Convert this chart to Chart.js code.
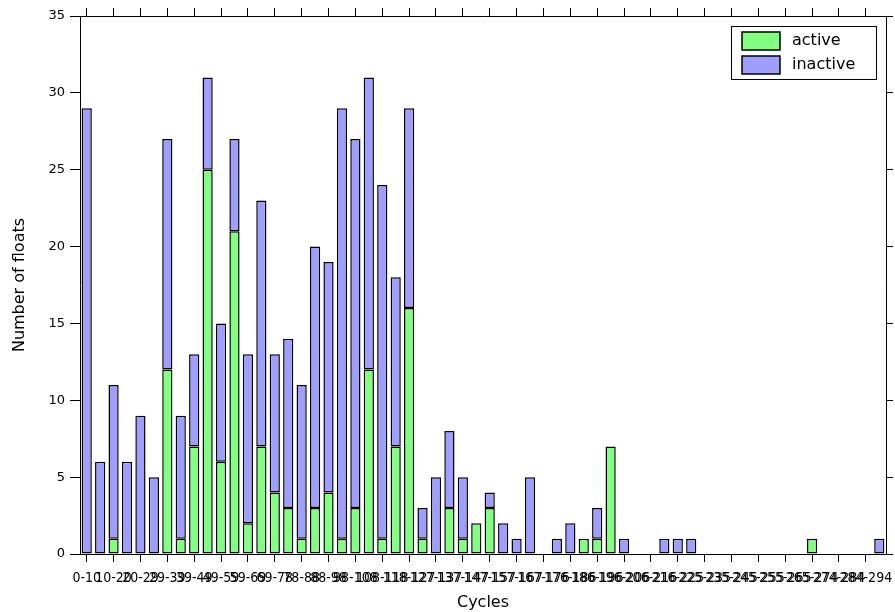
<!DOCTYPE html>
<html>
<head>
<meta charset="utf-8">
<script src="https://cdn.jsdelivr.net/npm/chart.js@4.4.0/dist/chart.umd.min.js"></script>
<style>
html,body{margin:0;padding:0;background:#fff;}
#wrap{width:895px;height:612px;position:relative;}
canvas{display:block;}
</style>
</head>
<body>
<div id="wrap"><canvas id="c" width="895" height="612"></canvas></div>
<script>
// Tick labels shown under every other bar
const tickLabels = ["0-10","10-20","20-29","29-39","39-49","49-59","59-69","69-78","78-88","88-98",
  "98-108","108-118","118-127","127-137","137-147","147-157","157-167","167-176","176-186","186-196",
  "196-206","206-216","216-225","225-235","235-245","245-255","255-265","265-274","274-284","284-294"];

// Number of floats per bin (60 bins)
const active = [0,0,1,0,0,0,12,1,7,25, 6,21,2,7,4,3,1,3,4,1,
  3,12,1,7,16,1,0,3,1,2, 3,0,0,0,0,0,0,1,1,7,
  0,0,0,0,0,0,0,0,0,0, 0,0,0,0,1,0,0,0,0,0];
const inactive = [29,6,10,6,9,5,15,8,6,6, 9,6,11,16,9,11,10,17,15,28,
  24,19,23,11,13,2,5,5,4,0, 1,2,1,5,0,1,2,0,2,0,
  1,0,0,1,1,1,0,0,0,0, 0,0,0,0,0,0,0,0,0,1];

const yMin = 0, yMax = 35, yStep = 5;

// categories: one per bin, labelled on every other bin
const categories = [];
for (let i = 0; i < active.length; i++) {
  categories.push(i % 2 === 0 ? tickLabels[i / 2] : '');
}

const GREEN = '#80ff80';
const BLUE = '#9e9eff';

const tickColor = ctx => (ctx.index % 2 === 0 ? '#000' : 'rgba(0,0,0,0)');

const boxLegend = {
  id: 'boxLegend',
  afterDraw(chart) {
    const ctx = chart.ctx;
    const x0 = 731.5, y0 = 26.5, w = 145, h = 53;
    ctx.save();
    ctx.fillStyle = '#fff';
    ctx.fillRect(x0, y0, w, h);
    ctx.strokeStyle = '#000';
    ctx.lineWidth = 1;
    ctx.strokeRect(x0, y0, w, h);
    ctx.font = '16px "DejaVu Sans"';
    ctx.textBaseline = 'middle';
    ctx.textAlign = 'left';
    chart.data.datasets.forEach((ds, i) => {
      const sy = 32 + i * 24;
      ctx.fillStyle = ds.backgroundColor;
      ctx.fillRect(742, sy, 38, 18);
      ctx.strokeStyle = '#000';
      ctx.lineWidth = 1.5;
      ctx.strokeRect(742, sy, 38, 18);
      ctx.fillStyle = '#000';
      ctx.fillText(ds.label, 792, sy + 9);
    });
    ctx.restore();
  }
};

new Chart(document.getElementById('c'), {
  type: 'bar',
  data: {
    labels: categories,
    datasets: [
      { label: 'active', data: active, backgroundColor: GREEN, borderColor: '#000',
        borderWidth: 1.5, borderSkipped: false, barPercentage: 0.76, categoryPercentage: 1 },
      { label: 'inactive', data: inactive, backgroundColor: BLUE, borderColor: '#000',
        borderWidth: 1.5, borderSkipped: false, barPercentage: 0.76, categoryPercentage: 1 }
    ]
  },
  options: {
    responsive: false,
    animation: false,
    devicePixelRatio: 1,
    layout: { padding: 0 },
    plugins: { legend: { display: false }, tooltip: { enabled: false }, title: { display: false } },
    scales: {
      x: {
        type: 'category', position: 'bottom', stacked: true, offset: true,
        grid: { offset: false, drawOnChartArea: false, drawTicks: true, tickLength: 8,
                color: tickColor, tickColor: tickColor, lineWidth: 1 },
        border: { display: true, color: '#000', width: 1 },
        ticks: { autoSkip: false, maxRotation: 0, minRotation: 0, padding: 8, color: '#000',
                 font: { family: "'DejaVu Sans Condensed','Liberation Sans Narrow','Liberation Sans'", size: 14 } },
        title: { display: true, text: 'Cycles', color: '#000',
                 font: { family: 'DejaVu Sans', size: 16 }, padding: { top: 0, bottom: 0 } },
        afterFit: s => { s.height = 58; }
      },
      x2: {
        type: 'category', position: 'top', offset: true,
        grid: { offset: false, drawOnChartArea: false, drawTicks: true, tickLength: 8,
                color: tickColor, tickColor: tickColor, lineWidth: 1 },
        border: { display: true, color: '#000', width: 1 },
        ticks: { display: false, autoSkip: false },
        afterFit: s => { s.height = 16; }
      },
      y: {
        type: 'linear', position: 'left', stacked: true, min: yMin, max: yMax,
        ticks: { stepSize: yStep, padding: 5, color: '#000', font: { family: 'DejaVu Sans', size: 13 } },
        grid: { drawOnChartArea: false, drawTicks: true, tickLength: 10, color: '#000', lineWidth: 1 },
        border: { display: true, color: '#000', width: 1 },
        title: { display: true, text: 'Number of floats', color: '#000',
                 font: { family: 'DejaVu Sans', size: 16 }, padding: { top: 10, bottom: 0 } },
        afterFit: s => { s.width = 80; }
      },
      y2: {
        type: 'linear', position: 'right', min: yMin, max: yMax,
        ticks: { display: false, stepSize: yStep },
        grid: { drawOnChartArea: false, drawTicks: true, tickLength: 7, color: '#000', lineWidth: 1 },
        border: { display: true, color: '#000', width: 1 },
        afterFit: s => { s.width = 9; }
      }
    }
  },
  plugins: [boxLegend]
});
</script>
</body>
</html>
